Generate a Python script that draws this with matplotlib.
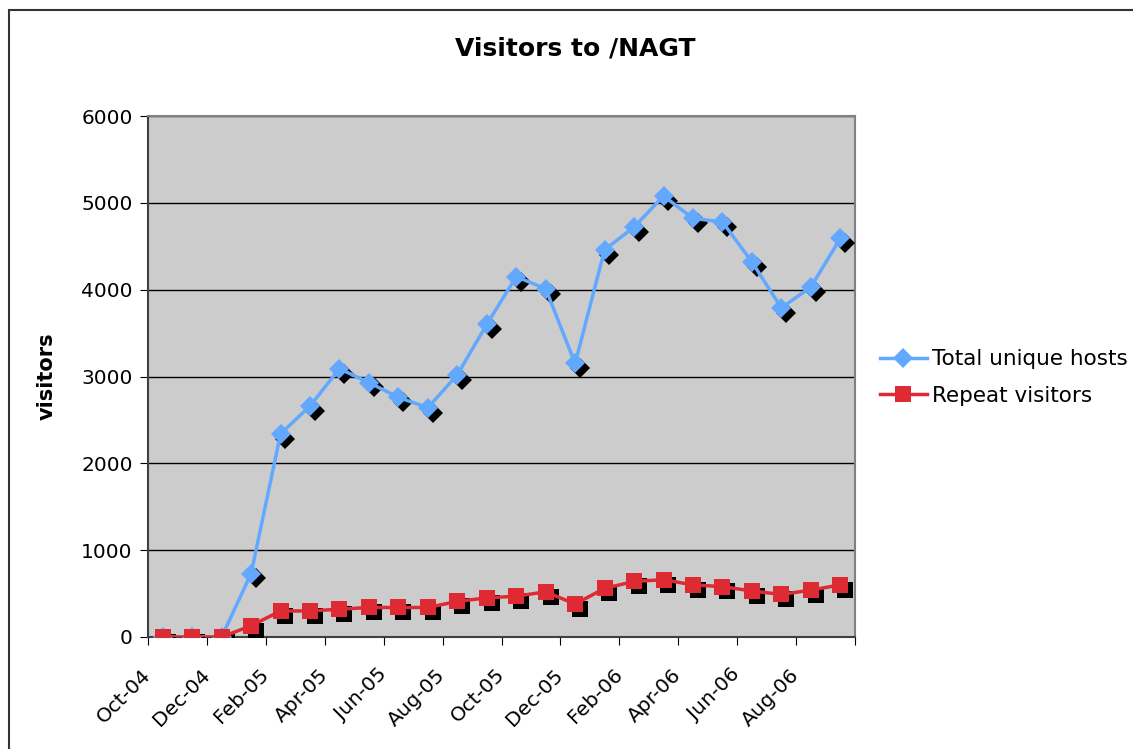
import matplotlib.pyplot as plt
from matplotlib.patches import Rectangle
from matplotlib.transforms import ScaledTranslation

# Monthly data, Oct-04 .. Sep-06
months = ['Oct-04', 'Nov-04', 'Dec-04', 'Jan-05', 'Feb-05', 'Mar-05', 'Apr-05', 'May-05',
          'Jun-05', 'Jul-05', 'Aug-05', 'Sep-05', 'Oct-05', 'Nov-05', 'Dec-05', 'Jan-06',
          'Feb-06', 'Mar-06', 'Apr-06', 'May-06', 'Jun-06', 'Jul-06', 'Aug-06', 'Sep-06']
total_hosts = [0, 0, 0, 730, 2340, 2660, 3090, 2930, 2760, 2640, 3020, 3600,
               4150, 4010, 3150, 4460, 4720, 5080, 4820, 4780, 4320, 3790, 4030, 4590]
repeat_visitors = [0, 0, 0, 130, 300, 300, 320, 340, 340, 340, 410, 450,
                   470, 520, 380, 560, 640, 660, 600, 580, 530, 490, 540, 600]

blue = '#62A8FF'
red = '#DD2A33'

fig = plt.figure(figsize=(11.33, 7.49), dpi=100)
ax = fig.add_axes([148/1133, 112/749, 707/1133, 521/749])
ax.set_facecolor('#CCCCCC')

x = [i + 0.5 for i in range(len(months))]

# Excel-style drop shadow under the markers
shadow = ax.transData + ScaledTranslation(3.5/72, -3.5/72, fig.dpi_scale_trans)
ax.plot(x, total_hosts, 'D', color='black', ms=10.5, mew=0, transform=shadow, zorder=3)
ax.plot(x, repeat_visitors, 's', color='black', ms=11, mew=0, transform=shadow, zorder=3)

ax.plot(x, total_hosts, '-D', color=blue, lw=2.5, ms=10.5, mew=0, zorder=4,
        label='Total unique hosts')
ax.plot(x, repeat_visitors, '-s', color=red, lw=2.5, ms=11, mew=0, zorder=5,
        label='Repeat visitors')

ax.set_xlim(0, 24)
ax.set_ylim(0, 6000)
ax.set_yticks(range(0, 6001, 1000))
ax.yaxis.grid(True, color='black', lw=1)
ax.set_axisbelow(True)

ax.set_xticks(range(0, 25, 2))
ax.set_xticklabels(months[::2] + [''], rotation=45, ha='right', va='center',
                   rotation_mode='anchor')
ax.tick_params(axis='x', length=6, pad=19, labelsize=14.5, color='black')
ax.tick_params(axis='y', length=6, pad=5, labelsize=14.5, color='black')

for s in ['top', 'right']:
    ax.spines[s].set_color('#808080')
    ax.spines[s].set_linewidth(1.5)
for s in ['left', 'bottom']:
    ax.spines[s].set_color('#404040')
    ax.spines[s].set_linewidth(1.5)

ax.set_ylabel('visitors', fontsize=15, fontweight='bold', labelpad=18)
fig.text(575/1133, 1 - 48/749, 'Visitors to /NAGT', fontsize=18, fontweight='bold',
         ha='center', va='center')

ax.legend(loc='center left', bbox_to_anchor=(1.035, 0.498), frameon=False,
          borderaxespad=0, borderpad=0, fontsize=15.5, handlelength=2.2,
          handletextpad=0.25, labelspacing=0.75)

# chart border
fig.patches.append(Rectangle((9/1133, -0.1), 1.2, 1 - 10/749 + 0.1, transform=fig.transFigure,
                             fill=False, edgecolor='#333333', lw=1.5))

fig.savefig('out.png', dpi=100)
